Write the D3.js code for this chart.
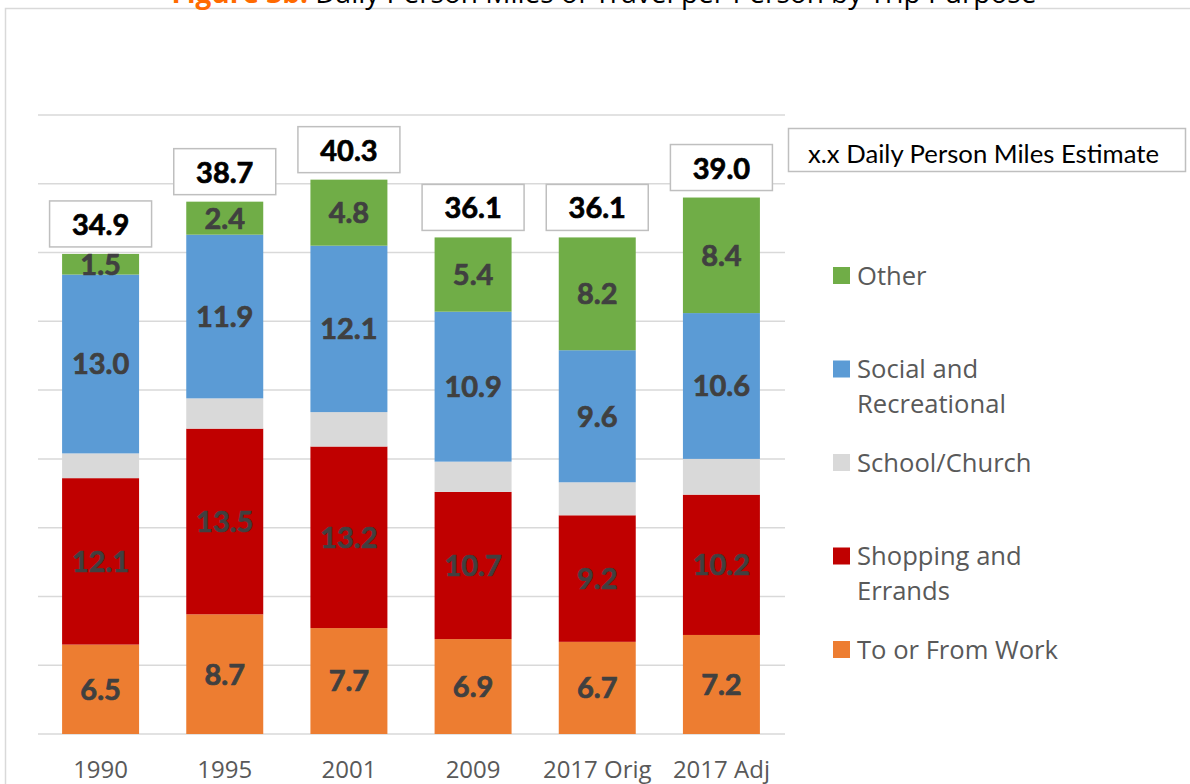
<!DOCTYPE html>
<html>
<head>
<meta charset="utf-8">
<script src="https://cdn.jsdelivr.net/npm/d3@7"></script>
<style>
  html, body { margin: 0; padding: 0; background: #fff; }
  svg { display: block; }
</style>
</head>
<body>
<svg id="chart" width="1190" height="784"></svg>
<script>
// ---- Data ----
const categories = ["1990", "1995", "2001", "2009", "2017 Orig", "2017 Adj"];
const workValues     = [6.5, 8.7, 7.7, 6.9, 6.7, 7.2];
const shoppingValues = [12.1, 13.5, 13.2, 10.7, 9.2, 10.2];
const schoolValues   = [1.8, 2.2, 2.5, 2.2, 2.4, 2.6];
const socialValues   = [13.0, 11.9, 12.1, 10.9, 9.6, 10.6];
const otherValues    = [1.5, 2.4, 4.8, 5.4, 8.2, 8.4];
const totalValues    = [34.9, 38.7, 40.3, 36.1, 36.1, 39.0];
const yTicks = [0, 5, 10, 15, 20, 25, 30, 35, 40, 45];
const seriesNames = ["To or From Work", "Shopping and Errands", "School/Church", "Social and Recreational", "Other"];
const seriesKeys = ["work", "shopping", "school", "social", "other"];
const seriesShowLabel = [true, true, false, true, true];
const legendOrder = ["other", "social", "school", "shopping", "work"];
const legendLines = {
  other: ["Other"],
  social: ["Social and", "Recreational"],
  school: ["School/Church"],
  shopping: ["Shopping and", "Errands"],
  work: ["To or From Work"]
};
const colors = {
  work: "#ED7D31", shopping: "#C00000", school: "#D9D9D9", social: "#5B9BD5", other: "#70AD47"
};

const table = categories.map((c, i) => ({
  cat: c,
  work: workValues[i], shopping: shoppingValues[i], school: schoolValues[i],
  social: socialValues[i], other: otherValues[i], total: totalValues[i]
}));

// ---- Layout ----
const svg = d3.select("#chart");
const x = d3.scaleBand().domain(categories).range([38.5, 783.5]).paddingInner(0.38).paddingOuter(0.19);
const y = d3.scaleLinear().domain([0, 45]).range([734, 115]);

// Outer frame
svg.append("rect").attr("x", 5.5).attr("y", 8.5).attr("width", 1250).attr("height", 900)
  .attr("fill", "none").attr("stroke", "#D9D9D9").attr("stroke-width", 1.5);

// Title (partially cut off at the top, as in the reference)
const title = svg.append("text").attr("x", 604).attr("y", 2.5).attr("text-anchor", "middle")
  .attr("font-family", "Open Sans").attr("font-size", 28);
title.append("tspan").attr("fill", "#FF6A00").attr("font-weight", "bold").text("Figure 3b:");
title.append("tspan").attr("fill", "#000").text(" Daily Person Miles of Travel per Person by Trip Purpose");

// Gridlines
svg.append("g").selectAll("line").data(yTicks).join("line")
  .attr("x1", 38).attr("x2", 785)
  .attr("y1", d => y(d)).attr("y2", d => y(d))
  .attr("stroke", "#D9D9D9").attr("stroke-width", 1.5);

// Stacked bars
const stack = d3.stack().keys(seriesKeys)(table);
const layers = svg.append("g").selectAll("g").data(stack).join("g")
  .attr("fill", d => colors[d.key]);
layers.selectAll("rect").data(d => d).join("rect")
  .attr("x", d => x(d.data.cat))
  .attr("width", x.bandwidth())
  .attr("y", d => y(d[1]))
  .attr("height", d => y(d[0]) - y(d[1]));

// Segment labels
stack.forEach((layer, li) => {
  if (!seriesShowLabel[li]) return;
  svg.append("g").selectAll("text").data(layer).join("text")
    .attr("x", d => x(d.data.cat) + x.bandwidth() / 2)
    .attr("y", d => (y(d[0]) + y(d[1])) / 2)
    .attr("dy", "0.36em")
    .attr("text-anchor", "middle")
    .attr("font-family", "Lato").attr("font-weight", "bold").attr("font-size", 29)
    .attr("fill", "#404040").attr("stroke", "#404040").attr("stroke-width", 0.7)
    .text(d => d.data[layer.key].toFixed(1));
});

// Total label boxes
const boxW = 102, boxH = 46, gap = 7;
const totals = svg.append("g").selectAll("g").data(table).join("g")
  .attr("transform", d => `translate(${x(d.cat) + x.bandwidth() / 2},${y(d.total) - gap - boxH / 2})`);
totals.append("rect").attr("x", -boxW / 2).attr("y", -boxH / 2).attr("width", boxW).attr("height", boxH)
  .attr("fill", "#fff").attr("stroke", "#BFBFBF").attr("stroke-width", 1.5);
totals.append("text").attr("text-anchor", "middle").attr("dy", "0.38em")
  .attr("font-family", "Lato").attr("font-weight", "bold").attr("font-size", 29)
  .attr("fill", "#000").attr("stroke", "#000").attr("stroke-width", 0.7)
  .text(d => d.total.toFixed(1));

// X axis
const xAxis = svg.append("g").attr("transform", "translate(0,758)")
  .call(d3.axisBottom(x).tickSize(0).tickPadding(0));
xAxis.select(".domain").remove();
xAxis.selectAll("text").attr("font-family", "Open Sans").attr("font-size", 24).attr("fill", "#595959")
  .attr("dy", "0.85em");

// Estimate legend box
svg.append("rect").attr("x", 788.5).attr("y", 128.5).attr("width", 397).attr("height", 43)
  .attr("fill", "#fff").attr("stroke", "#BFBFBF").attr("stroke-width", 1.5);
svg.append("text").attr("x", 808).attr("y", 163).attr("font-family", "Lato").attr("font-size", 25.7)
  .attr("fill", "#000").text("x.x Daily Person Miles Estimate");

// Legend
const legend = svg.append("g").selectAll("g").data(legendOrder).join("g")
  .attr("transform", (d, i) => `translate(833,${267 + i * 93.5})`);
legend.append("rect").attr("width", 17).attr("height", 17).attr("fill", d => colors[d]);
legend.each(function(d) {
  const g = d3.select(this);
  legendLines[d].forEach((line, j) => {
    g.append("text").attr("x", 24).attr("y", 8.5 + j * 35).attr("dy", "0.36em")
      .attr("font-family", "Open Sans").attr("font-size", 25.6).attr("fill", "#595959").text(line);
  });
});
</script>
</body>
</html>
